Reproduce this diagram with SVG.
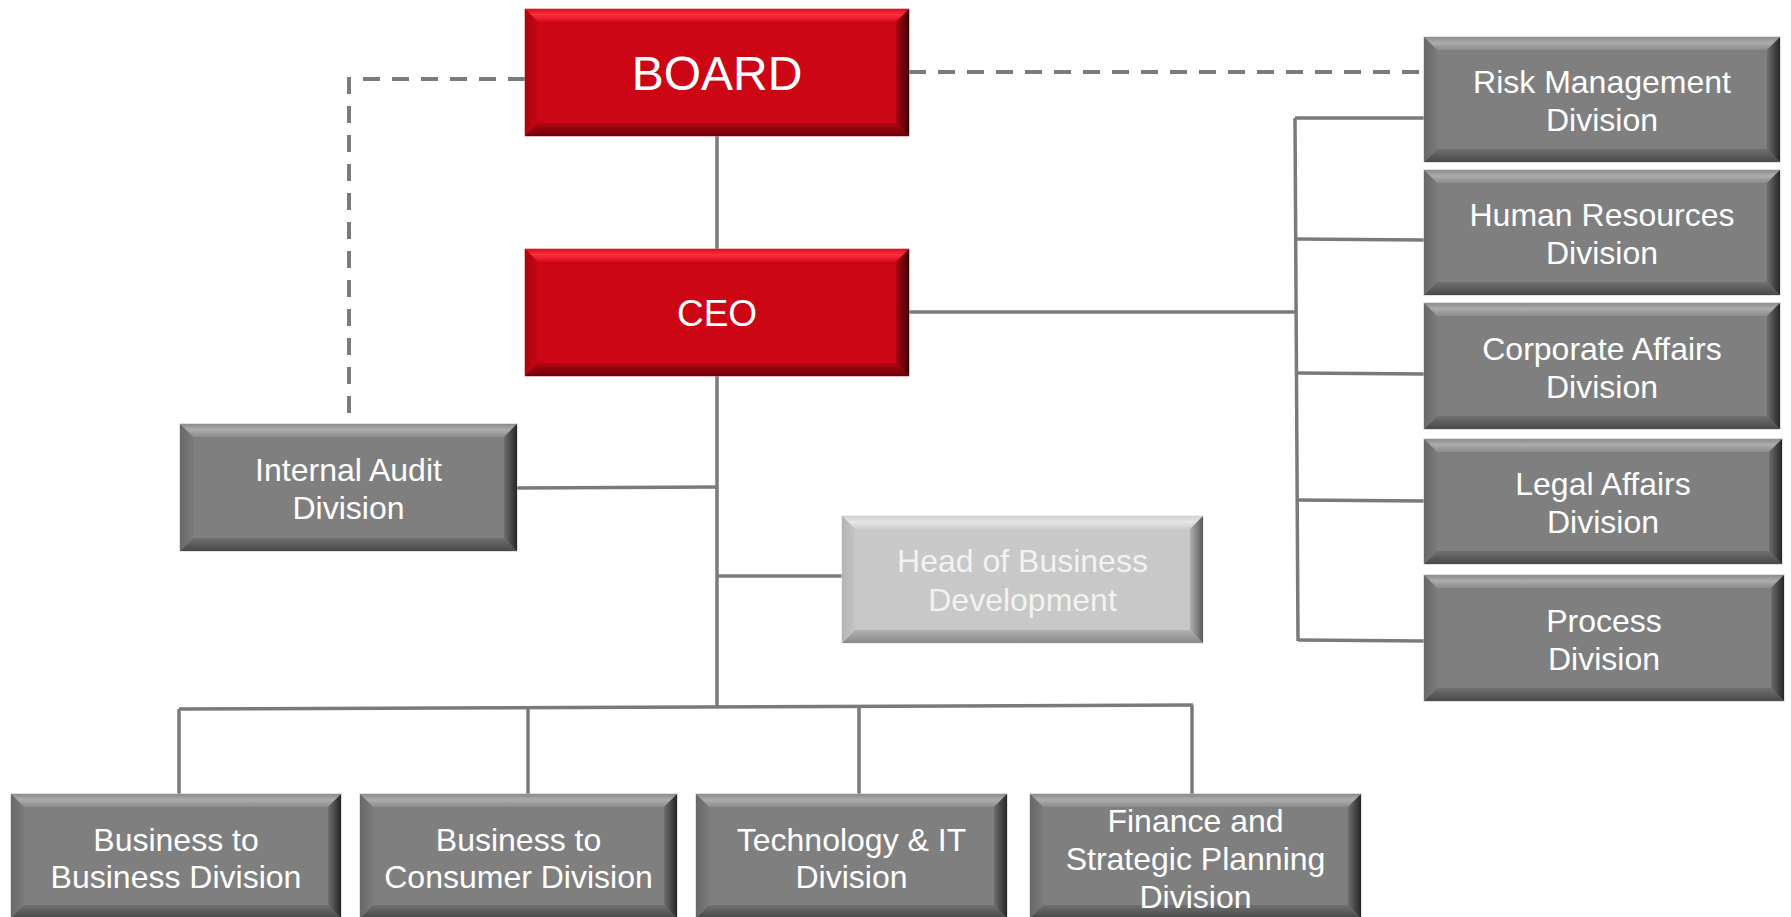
<svg xmlns="http://www.w3.org/2000/svg" width="1791" height="917" viewBox="0 0 1791 917">
<defs>
<linearGradient id="gT" x1="0" y1="0" x2="0" y2="1"><stop offset="0" stop-color="#8c8c8c"/><stop offset="0.45" stop-color="#adadad"/><stop offset="1" stop-color="#8a8a8a"/></linearGradient>
<linearGradient id="gB" x1="0" y1="0" x2="0" y2="1"><stop offset="0" stop-color="#707070"/><stop offset="1" stop-color="#484848"/></linearGradient>
<linearGradient id="gL" x1="0" y1="0" x2="1" y2="0"><stop offset="0" stop-color="#686868"/><stop offset="1" stop-color="#7a7a7a"/></linearGradient>
<linearGradient id="gR" x1="0" y1="0" x2="1" y2="0"><stop offset="0" stop-color="#6e6e6e"/><stop offset="1" stop-color="#262626"/></linearGradient>
<linearGradient id="rT" x1="0" y1="0" x2="0" y2="1"><stop offset="0" stop-color="#d8101e"/><stop offset="0.45" stop-color="#ff2d3f"/><stop offset="1" stop-color="#d40a18"/></linearGradient>
<linearGradient id="rB" x1="0" y1="0" x2="0" y2="1"><stop offset="0" stop-color="#b00812"/><stop offset="1" stop-color="#6a0008"/></linearGradient>
<linearGradient id="rL" x1="0" y1="0" x2="1" y2="0"><stop offset="0" stop-color="#a80510"/><stop offset="1" stop-color="#c40614"/></linearGradient>
<linearGradient id="rR" x1="0" y1="0" x2="1" y2="0"><stop offset="0" stop-color="#b00612"/><stop offset="1" stop-color="#3e0004"/></linearGradient>
<linearGradient id="lT" x1="0" y1="0" x2="0" y2="1"><stop offset="0" stop-color="#d0d0d0"/><stop offset="0.45" stop-color="#e6e6e6"/><stop offset="1" stop-color="#cdcdcd"/></linearGradient>
<linearGradient id="lB" x1="0" y1="0" x2="0" y2="1"><stop offset="0" stop-color="#b0b0b0"/><stop offset="1" stop-color="#8a8a8a"/></linearGradient>
<linearGradient id="lL" x1="0" y1="0" x2="1" y2="0"><stop offset="0" stop-color="#b4b4b4"/><stop offset="1" stop-color="#c4c4c4"/></linearGradient>
<linearGradient id="lR" x1="0" y1="0" x2="1" y2="0"><stop offset="0" stop-color="#b0b0b0"/><stop offset="1" stop-color="#5a5a5a"/></linearGradient>
</defs>
<style>
.g .m{fill:#7f7f7f;stroke:#c4c4c4;stroke-width:1}
.g .t{fill:url(#gT)} .g .b{fill:url(#gB)} .g .l{fill:url(#gL)} .g .r{fill:url(#gR)}
.rd .m{fill:#cc0615;stroke:#e07078;stroke-width:1}
.rd .t{fill:url(#rT)} .rd .b{fill:url(#rB)} .rd .l{fill:url(#rL)} .rd .r{fill:url(#rR)}
.lt .m{fill:#c8c8c8;stroke:#dddddd;stroke-width:1}
.lt .t{fill:url(#lT)} .lt .b{fill:url(#lB)} .lt .l{fill:url(#lL)} .lt .r{fill:url(#lR)}
text{font-family:"Liberation Sans",Arial,sans-serif;fill:#ffffff;text-anchor:middle;font-size:32px}
.lt text{fill:#f2f2f2}
.con{fill:none;stroke:#7a7a7a;stroke-width:3.5}
.dash{fill:none;stroke:#7a7a7a;stroke-width:4;stroke-dasharray:17 12}
</style>

<g id="connectors">
<path class="dash" d="M525,79 H349 V424"/>
<path class="dash" d="M909,72 H1424"/>
<path class="con" d="M717,136 V249"/>
<path class="con" d="M717,376 V708"/>
<path class="con" d="M517,488 L717,487"/>
<path class="con" d="M717,576 H842"/>
<path class="con" d="M179,709 L1193,705"/>
<path class="con" d="M179,709 V794"/>
<path class="con" d="M528,707 V794"/>
<path class="con" d="M859,706 V794"/>
<path class="con" d="M1192,705 V794"/>
<path class="con" d="M909,312 H1297"/>
<path class="con" d="M1295,118 L1298,641"/>
<path class="con" d="M1295,118 H1424"/>
<path class="con" d="M1296,239 L1424,240"/>
<path class="con" d="M1297,373 L1424,374"/>
<path class="con" d="M1297,500 L1424,501"/>
<path class="con" d="M1298,640 L1424,641"/>
</g>

<g id="board" class="rd" transform="translate(525,9)">
<rect class="m" x="0" y="0" width="384" height="127"/>
<polygon class="t" points="0,0 384,0 371,13 13,13"/>
<polygon class="b" points="0,127 384,127 371,114 13,114"/>
<polygon class="l" points="0,0 13,13 13,114 0,127"/>
<polygon class="r" points="384,0 384,127 371,114 371,13"/>
<text x="192" y="81" style="font-size:48px">BOARD</text>
</g>

<g id="ceo" class="rd" transform="translate(525,249)">
<rect class="m" x="0" y="0" width="384" height="127"/>
<polygon class="t" points="0,0 384,0 371,13 13,13"/>
<polygon class="b" points="0,127 384,127 371,114 13,114"/>
<polygon class="l" points="0,0 13,13 13,114 0,127"/>
<polygon class="r" points="384,0 384,127 371,114 371,13"/>
<text x="192" y="77" style="font-size:37px">CEO</text>
</g>

<g id="internal-audit" class="g" transform="translate(180,424)">
<rect class="m" x="0" y="0" width="337" height="127"/>
<polygon class="t" points="0,0 337,0 324,13 13,13"/>
<polygon class="b" points="0,127 337,127 324,114 13,114"/>
<polygon class="l" points="0,0 13,13 13,114 0,127"/>
<polygon class="r" points="337,0 337,127 324,114 324,13"/>
<text x="168.5" y="57">Internal Audit</text>
<text x="168.5" y="95">Division</text>
</g>

<g id="head-bd" class="lt" transform="translate(842,516)">
<rect class="m" x="0" y="0" width="361" height="127"/>
<polygon class="t" points="0,0 361,0 348,13 13,13"/>
<polygon class="b" points="0,127 361,127 348,114 13,114"/>
<polygon class="l" points="0,0 13,13 13,114 0,127"/>
<polygon class="r" points="361,0 361,127 348,114 348,13"/>
<text x="180.5" y="56">Head of Business</text>
<text x="180.5" y="95">Development</text>
</g>

<g id="risk" class="g" transform="translate(1424,37)">
<rect class="m" x="0" y="0" width="356" height="125"/>
<polygon class="t" points="0,0 356,0 343,13 13,13"/>
<polygon class="b" points="0,125 356,125 343,112 13,112"/>
<polygon class="l" points="0,0 13,13 13,112 0,125"/>
<polygon class="r" points="356,0 356,125 343,112 343,13"/>
<text x="178" y="56">Risk Management</text>
<text x="178" y="94">Division</text>
</g>

<g id="hr" class="g" transform="translate(1424,170)">
<rect class="m" x="0" y="0" width="356" height="125"/>
<polygon class="t" points="0,0 356,0 343,13 13,13"/>
<polygon class="b" points="0,125 356,125 343,112 13,112"/>
<polygon class="l" points="0,0 13,13 13,112 0,125"/>
<polygon class="r" points="356,0 356,125 343,112 343,13"/>
<text x="178" y="56">Human Resources</text>
<text x="178" y="94">Division</text>
</g>

<g id="corporate" class="g" transform="translate(1424,303)">
<rect class="m" x="0" y="0" width="356" height="126"/>
<polygon class="t" points="0,0 356,0 343,13 13,13"/>
<polygon class="b" points="0,126 356,126 343,113 13,113"/>
<polygon class="l" points="0,0 13,13 13,113 0,126"/>
<polygon class="r" points="356,0 356,126 343,113 343,13"/>
<text x="178" y="57">Corporate Affairs</text>
<text x="178" y="95">Division</text>
</g>

<g id="legal" class="g" transform="translate(1424,439)">
<rect class="m" x="0" y="0" width="358" height="125"/>
<polygon class="t" points="0,0 358,0 345,13 13,13"/>
<polygon class="b" points="0,125 358,125 345,112 13,112"/>
<polygon class="l" points="0,0 13,13 13,112 0,125"/>
<polygon class="r" points="358,0 358,125 345,112 345,13"/>
<text x="179" y="56">Legal Affairs</text>
<text x="179" y="94">Division</text>
</g>

<g id="process" class="g" transform="translate(1424,575)">
<rect class="m" x="0" y="0" width="360" height="126"/>
<polygon class="t" points="0,0 360,0 347,13 13,13"/>
<polygon class="b" points="0,126 360,126 347,113 13,113"/>
<polygon class="l" points="0,0 13,13 13,113 0,126"/>
<polygon class="r" points="360,0 360,126 347,113 347,13"/>
<text x="180" y="57">Process</text>
<text x="180" y="95">Division</text>
</g>

<g id="b2b" class="g" transform="translate(11,794)">
<rect class="m" x="0" y="0" width="330" height="124"/>
<polygon class="t" points="0,0 330,0 317,13 13,13"/>
<polygon class="b" points="0,124 330,124 317,111 13,111"/>
<polygon class="l" points="0,0 13,13 13,111 0,124"/>
<polygon class="r" points="330,0 330,124 317,111 317,13"/>
<text x="165" y="57">Business to</text>
<text x="165" y="94">Business Division</text>
</g>

<g id="b2c" class="g" transform="translate(360,794)">
<rect class="m" x="0" y="0" width="317" height="124"/>
<polygon class="t" points="0,0 317,0 304,13 13,13"/>
<polygon class="b" points="0,124 317,124 304,111 13,111"/>
<polygon class="l" points="0,0 13,13 13,111 0,124"/>
<polygon class="r" points="317,0 317,124 304,111 304,13"/>
<text x="158.5" y="57">Business to</text>
<text x="158.5" y="94">Consumer Division</text>
</g>

<g id="tech" class="g" transform="translate(696,794)">
<rect class="m" x="0" y="0" width="311" height="124"/>
<polygon class="t" points="0,0 311,0 298,13 13,13"/>
<polygon class="b" points="0,124 311,124 298,111 13,111"/>
<polygon class="l" points="0,0 13,13 13,111 0,124"/>
<polygon class="r" points="311,0 311,124 298,111 298,13"/>
<text x="155.5" y="57">Technology &amp; IT</text>
<text x="155.5" y="94">Division</text>
</g>

<g id="finance" class="g" transform="translate(1030,794)">
<rect class="m" x="0" y="0" width="331" height="124"/>
<polygon class="t" points="0,0 331,0 318,13 13,13"/>
<polygon class="b" points="0,124 331,124 318,111 13,111"/>
<polygon class="l" points="0,0 13,13 13,111 0,124"/>
<polygon class="r" points="331,0 331,124 318,111 318,13"/>
<text x="165.5" y="38">Finance and</text>
<text x="165.5" y="76">Strategic Planning</text>
<text x="165.5" y="114">Division</text>
</g>
</svg>
